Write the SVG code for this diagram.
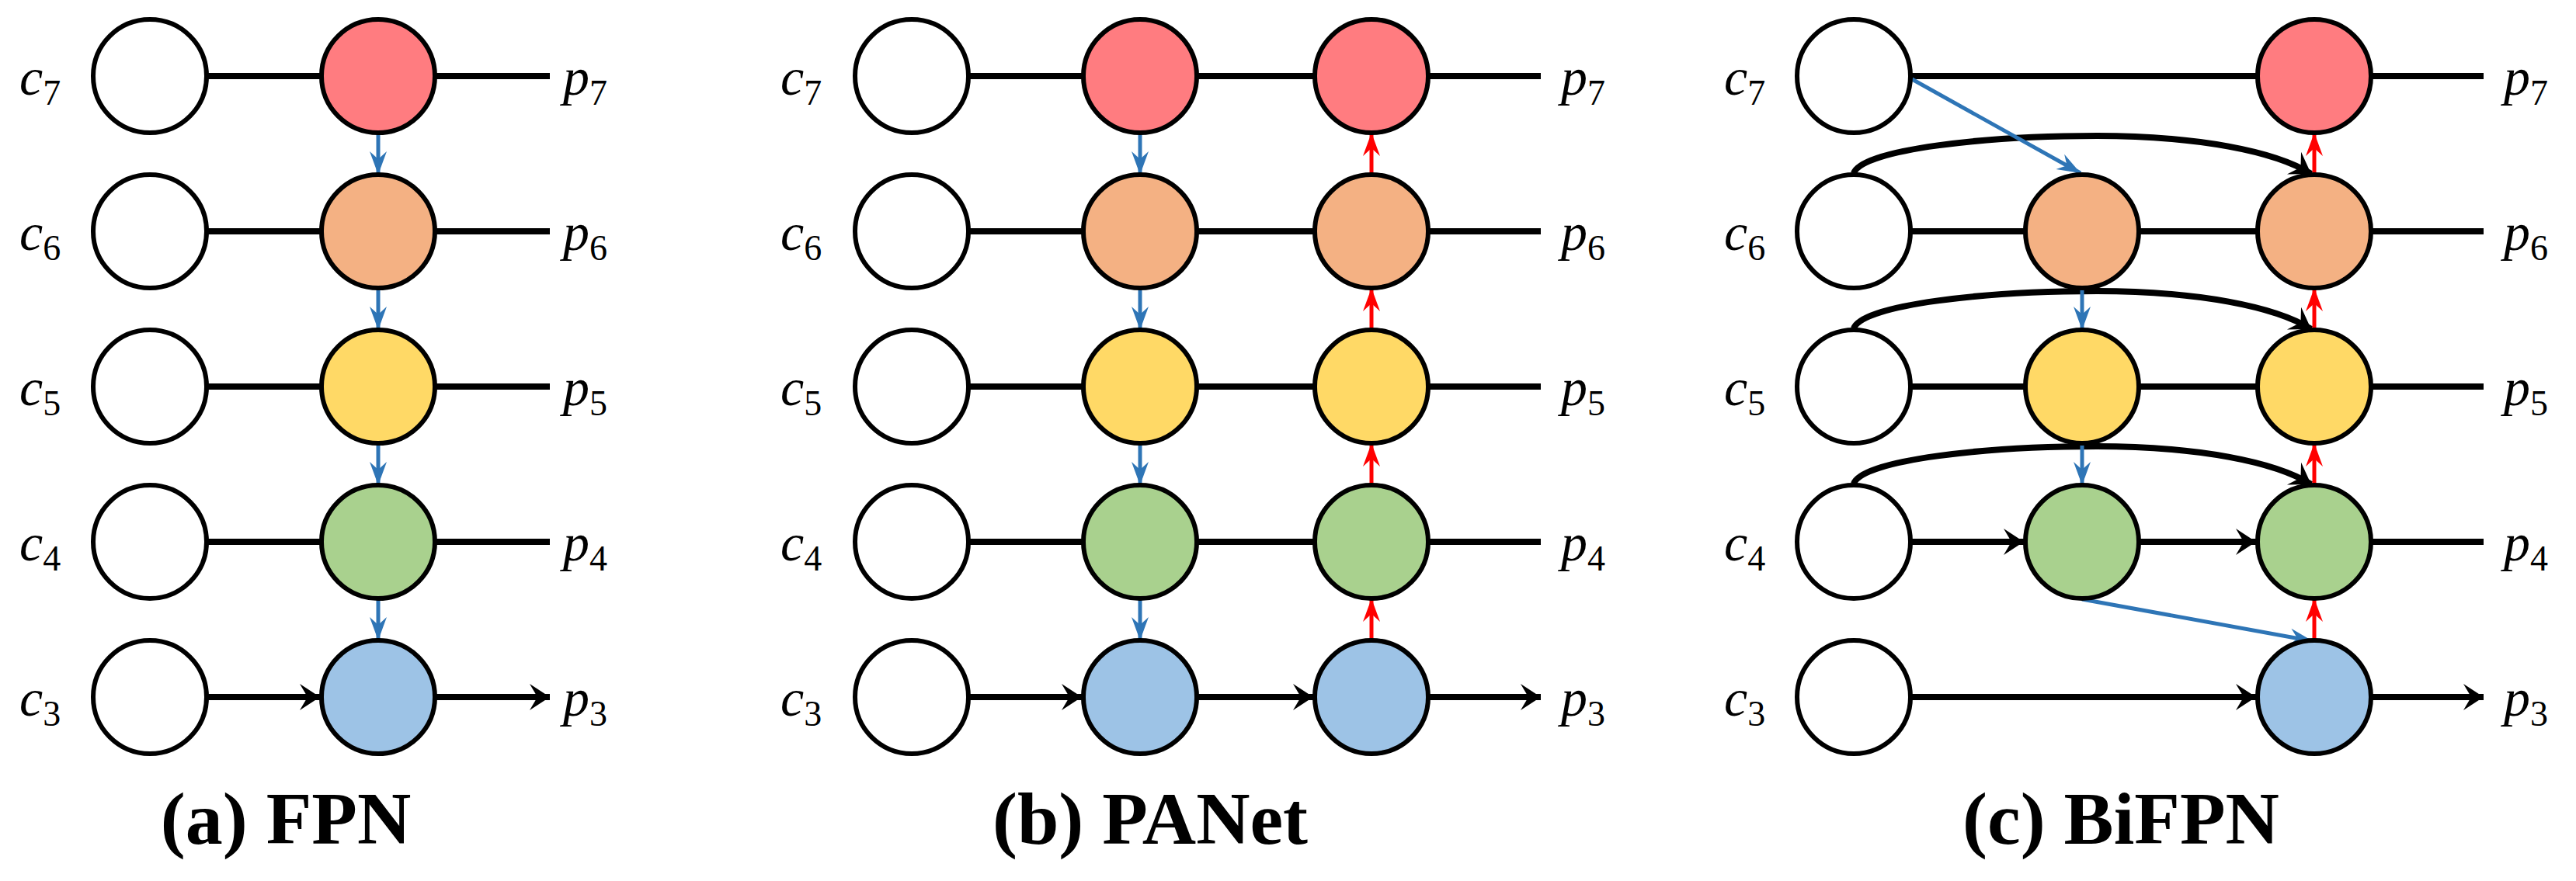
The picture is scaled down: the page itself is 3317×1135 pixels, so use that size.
<svg xmlns="http://www.w3.org/2000/svg" width="3317" height="1135" viewBox="0 0 3317 1135">
<style>
.n{stroke:#000;stroke-width:6}
.w{fill:#fff}.r{fill:#FF7C80}.o{fill:#F4B183}.y{fill:#FFD966}.g{fill:#A9D18E}.b{fill:#9DC3E6}
.k{stroke:#000;stroke-width:8;fill:none;marker-end:url(#ak)}
.bl{stroke:#2E75B6;stroke-width:5;fill:none;marker-end:url(#ab)}
.rd{stroke:#FF0000;stroke-width:5;fill:none;marker-end:url(#ar)}
.lab{font-family:"Liberation Serif",serif;font-style:italic;font-size:68px}
.sub{font-style:normal;font-size:46px}
.t{font-family:"Liberation Serif",serif;font-weight:bold;font-size:96px;text-anchor:middle}
</style>
<defs>
<marker id="ak" markerUnits="userSpaceOnUse" markerWidth="40" markerHeight="40" viewBox="-30 -20 32 40" refX="0" refY="0" orient="auto"><path d="M0,0 L-26,-17 L-16,0 L-26,17 Z" fill="#000"/></marker>
<marker id="ab" markerUnits="userSpaceOnUse" markerWidth="40" markerHeight="40" viewBox="-30 -20 32 40" refX="0" refY="0" orient="auto"><path d="M0,0 L-30,-11 L-20,0 L-30,11 Z" fill="#2E75B6"/></marker>
<marker id="ar" markerUnits="userSpaceOnUse" markerWidth="40" markerHeight="40" viewBox="-30 -20 32 40" refX="0" refY="0" orient="auto"><path d="M0,0 L-30,-11 L-20,0 L-30,11 Z" fill="#FF0000"/></marker>
</defs>
<g id="connectors">
<!-- FPN -->
<path class="k" d="M266,98H412M266,298H412M266,498H412M266,698H412M266,898H412"/>
<path class="k" d="M560,98H708M560,298H708M560,498H708M560,698H708M560,898H708"/>
<path class="bl" d="M487,171V225"/><path class="bl" d="M487,371V425"/><path class="bl" d="M487,571V625"/><path class="bl" d="M487,771V825"/>
<!-- PANet -->
<path class="k" d="M1247,98H1393M1247,298H1393M1247,498H1393M1247,698H1393M1247,898H1393"/>
<path class="k" d="M1541,98H1691M1541,298H1691M1541,498H1691M1541,698H1691M1541,898H1691"/>
<path class="k" d="M1839,98H1984M1839,298H1984M1839,498H1984M1839,698H1984M1839,898H1984"/>
<path class="bl" d="M1468,171V225"/><path class="bl" d="M1468,371V425"/><path class="bl" d="M1468,571V625"/><path class="bl" d="M1468,771V825"/>
<path class="rd" d="M1766,225V171"/><path class="rd" d="M1766,425V371"/><path class="rd" d="M1766,625V571"/><path class="rd" d="M1766,825V771"/>
<!-- BiFPN -->
<path class="k" d="M2460,98H2905M2460,898H2905"/>
<path class="k" d="M2460,298H2606M2460,498H2606M2460,698H2606"/>
<path class="k" d="M2754,298H2905M2754,498H2905M2754,698H2905"/>
<path class="k" d="M3053,98H3198M3053,298H3198M3053,498H3198M3053,698H3198M3053,898H3198"/>
<path class="k" d="M2387,223C2398,192 2560,175 2700,175C2830,175 2930,195 2976,224"/>
<path class="k" d="M2387,423C2398,392 2560,375 2700,375C2830,375 2930,395 2976,424"/>
<path class="k" d="M2387,623C2398,592 2560,575 2700,575C2830,575 2930,595 2976,624"/>
<path class="bl" d="M2462,102L2679,223"/>
<path class="bl" d="M2681,371V425"/><path class="bl" d="M2681,571V625"/>
<path class="bl" d="M2681,772L2978,826"/>
<path class="rd" d="M2980,225V171"/><path class="rd" d="M2980,425V371"/><path class="rd" d="M2980,625V571"/><path class="rd" d="M2980,825V771"/>
</g>
<g id="fpn">
<circle class="n w" cx="193" cy="98" r="73"/><circle class="n w" cx="193" cy="298" r="73"/><circle class="n w" cx="193" cy="498" r="73"/><circle class="n w" cx="193" cy="698" r="73"/><circle class="n w" cx="193" cy="898" r="73"/>
<circle class="n r" cx="487" cy="98" r="73"/><circle class="n o" cx="487" cy="298" r="73"/><circle class="n y" cx="487" cy="498" r="73"/><circle class="n g" cx="487" cy="698" r="73"/><circle class="n b" cx="487" cy="898" r="73"/>
</g>
<g id="panet">
<circle class="n w" cx="1174" cy="98" r="73"/><circle class="n w" cx="1174" cy="298" r="73"/><circle class="n w" cx="1174" cy="498" r="73"/><circle class="n w" cx="1174" cy="698" r="73"/><circle class="n w" cx="1174" cy="898" r="73"/>
<circle class="n r" cx="1468" cy="98" r="73"/><circle class="n o" cx="1468" cy="298" r="73"/><circle class="n y" cx="1468" cy="498" r="73"/><circle class="n g" cx="1468" cy="698" r="73"/><circle class="n b" cx="1468" cy="898" r="73"/>
<circle class="n r" cx="1766" cy="98" r="73"/><circle class="n o" cx="1766" cy="298" r="73"/><circle class="n y" cx="1766" cy="498" r="73"/><circle class="n g" cx="1766" cy="698" r="73"/><circle class="n b" cx="1766" cy="898" r="73"/>
</g>
<g id="bifpn">
<circle class="n w" cx="2387" cy="98" r="73"/><circle class="n w" cx="2387" cy="298" r="73"/><circle class="n w" cx="2387" cy="498" r="73"/><circle class="n w" cx="2387" cy="698" r="73"/><circle class="n w" cx="2387" cy="898" r="73"/>
<circle class="n o" cx="2681" cy="298" r="73"/><circle class="n y" cx="2681" cy="498" r="73"/><circle class="n g" cx="2681" cy="698" r="73"/>
<circle class="n r" cx="2980" cy="98" r="73"/><circle class="n o" cx="2980" cy="298" r="73"/><circle class="n y" cx="2980" cy="498" r="73"/><circle class="n g" cx="2980" cy="698" r="73"/><circle class="n b" cx="2980" cy="898" r="73"/>
</g>
<g id="labels">
<text class="lab" x="25" y="122">c<tspan class="sub" dy="13">7</tspan></text>
<text class="lab" x="25" y="322">c<tspan class="sub" dy="13">6</tspan></text>
<text class="lab" x="25" y="522">c<tspan class="sub" dy="13">5</tspan></text>
<text class="lab" x="25" y="722">c<tspan class="sub" dy="13">4</tspan></text>
<text class="lab" x="25" y="922">c<tspan class="sub" dy="13">3</tspan></text>
<text class="lab" x="725" y="122">p<tspan class="sub" dy="13">7</tspan></text>
<text class="lab" x="725" y="322">p<tspan class="sub" dy="13">6</tspan></text>
<text class="lab" x="725" y="522">p<tspan class="sub" dy="13">5</tspan></text>
<text class="lab" x="725" y="722">p<tspan class="sub" dy="13">4</tspan></text>
<text class="lab" x="725" y="922">p<tspan class="sub" dy="13">3</tspan></text>
<text class="lab" x="1005" y="122">c<tspan class="sub" dy="13">7</tspan></text>
<text class="lab" x="1005" y="322">c<tspan class="sub" dy="13">6</tspan></text>
<text class="lab" x="1005" y="522">c<tspan class="sub" dy="13">5</tspan></text>
<text class="lab" x="1005" y="722">c<tspan class="sub" dy="13">4</tspan></text>
<text class="lab" x="1005" y="922">c<tspan class="sub" dy="13">3</tspan></text>
<text class="lab" x="2010" y="122">p<tspan class="sub" dy="13">7</tspan></text>
<text class="lab" x="2010" y="322">p<tspan class="sub" dy="13">6</tspan></text>
<text class="lab" x="2010" y="522">p<tspan class="sub" dy="13">5</tspan></text>
<text class="lab" x="2010" y="722">p<tspan class="sub" dy="13">4</tspan></text>
<text class="lab" x="2010" y="922">p<tspan class="sub" dy="13">3</tspan></text>
<text class="lab" x="2220" y="122">c<tspan class="sub" dy="13">7</tspan></text>
<text class="lab" x="2220" y="322">c<tspan class="sub" dy="13">6</tspan></text>
<text class="lab" x="2220" y="522">c<tspan class="sub" dy="13">5</tspan></text>
<text class="lab" x="2220" y="722">c<tspan class="sub" dy="13">4</tspan></text>
<text class="lab" x="2220" y="922">c<tspan class="sub" dy="13">3</tspan></text>
<text class="lab" x="3224" y="122">p<tspan class="sub" dy="13">7</tspan></text>
<text class="lab" x="3224" y="322">p<tspan class="sub" dy="13">6</tspan></text>
<text class="lab" x="3224" y="522">p<tspan class="sub" dy="13">5</tspan></text>
<text class="lab" x="3224" y="722">p<tspan class="sub" dy="13">4</tspan></text>
<text class="lab" x="3224" y="922">p<tspan class="sub" dy="13">3</tspan></text>
<text class="t" x="368" y="1087">(a) FPN</text>
<text class="t" x="1481" y="1087">(b) PANet</text>
<text class="t" x="2731" y="1087">(c) BiFPN</text>
</g>
</svg>
